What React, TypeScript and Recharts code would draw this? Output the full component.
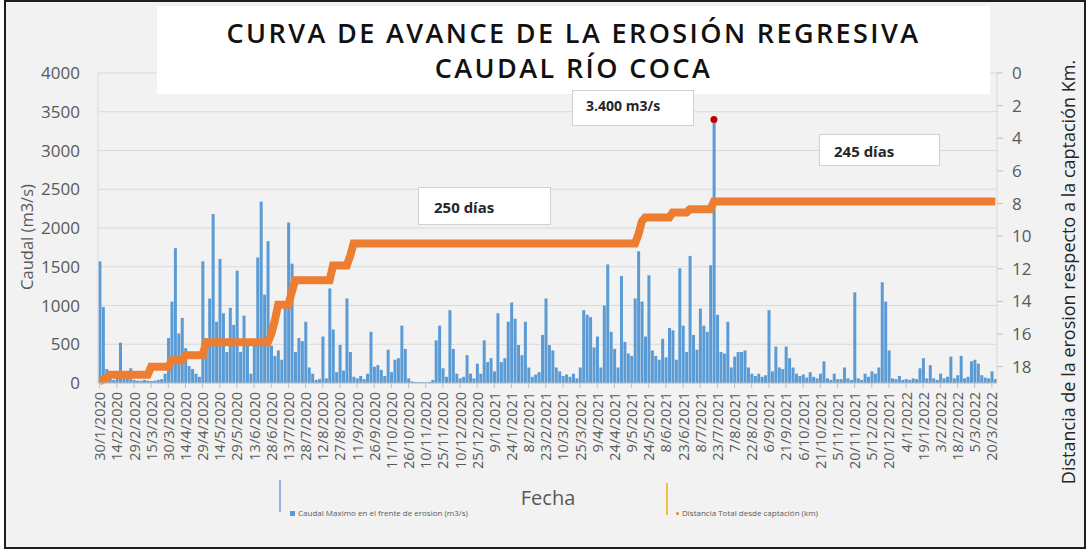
import React from 'react';
import {
  ComposedChart,
  Bar,
  Line,
  XAxis,
  YAxis,
  CartesianGrid,
  ReferenceDot
} from 'recharts';

// Caudal máximo en el frente de erosión (m3/s), un valor cada 3 días desde 30/1/2020
const caudal = [
  1570, 980, 180, 60, 40, 90, 520, 150, 60, 190,
  40, 30, 30, 40, 30, 25, 30, 40, 50, 120,
  580, 1050, 1740, 640, 840, 450, 220, 180, 120, 80,
  1570, 580, 1090, 2180, 790, 1600, 900, 400, 970, 750,
  1450, 400, 870, 490, 120, 520, 1620, 2340, 1140, 1830,
  480, 350, 420, 300, 1000, 2070, 1540, 400, 580, 540,
  790, 200, 120, 40, 50, 600, 60, 1220, 690, 140,
  490, 160, 1090, 400, 80, 60, 90, 50, 120, 660,
  210, 230, 170, 90, 430, 140, 300, 320, 740, 440,
  60, 20, 10, 10, 10, 10, 15, 40, 550, 740,
  190, 80, 940, 440, 120, 60, 80, 360, 120, 60,
  250, 120, 550, 270, 320, 150, 900, 270, 320, 790,
  1040, 830, 490, 360, 790, 200, 80, 110, 140, 620,
  1090, 490, 420, 200, 150, 90, 110, 80, 120, 60,
  200, 940, 880, 850, 460, 600, 200, 1000, 1530, 660,
  440, 200, 1380, 530, 380, 350, 1090, 1700, 1050, 600,
  1390, 420, 350, 300, 570, 330, 710, 680, 300, 1480,
  740, 400, 1640, 620, 430, 960, 740, 660, 1520, 3400,
  880, 400, 380, 790, 200, 340, 400, 400, 420, 200,
  120, 90, 120, 80, 100, 940, 150, 470, 200, 180,
  470, 320, 200, 120, 90, 110, 70, 140, 80, 60,
  120, 280, 60, 40, 120, 50, 50, 200, 60, 40,
  1170, 60, 40, 120, 80, 150, 120, 200, 1300, 1050,
  420, 60, 50, 90, 40, 50, 40, 60, 50, 190,
  320, 60, 230, 60, 40, 120, 60, 80, 340, 60,
  100, 350, 60, 80, 280, 300, 250, 100, 70, 60,
  150, 50
];

// Distancia total desde captación (km), mismos intervalos
const distancia = [
  18.9, 18.8, 18.7, 18.5, 18.5, 18.5, 18.5, 18.5, 18.5, 18.5,
  18.5, 18.5, 18.5, 18.5, 18.5, 18.0, 18.0, 18.0, 18.0, 18.0,
  18.0, 17.6, 17.6, 17.6, 17.6, 17.3, 17.3, 17.3, 17.3, 17.3,
  17.3, 16.5, 16.5, 16.5, 16.5, 16.5, 16.5, 16.5, 16.5, 16.5,
  16.5, 16.5, 16.5, 16.5, 16.5, 16.5, 16.5, 16.5, 16.5, 16.5,
  16.0, 15.2, 14.2, 14.2, 14.2, 14.2, 13.4, 12.7, 12.7, 12.7,
  12.7, 12.7, 12.7, 12.7, 12.7, 12.7, 12.7, 12.7, 11.8, 11.8,
  11.8, 11.8, 11.8, 11.2, 10.45, 10.45, 10.45, 10.45, 10.45, 10.45,
  10.45, 10.45, 10.45, 10.45, 10.45, 10.45, 10.45, 10.45, 10.45, 10.45,
  10.45, 10.45, 10.45, 10.45, 10.45, 10.45, 10.45, 10.45, 10.45, 10.45,
  10.45, 10.45, 10.45, 10.45, 10.45, 10.45, 10.45, 10.45, 10.45, 10.45,
  10.45, 10.45, 10.45, 10.45, 10.45, 10.45, 10.45, 10.45, 10.45, 10.45,
  10.45, 10.45, 10.45, 10.45, 10.45, 10.45, 10.45, 10.45, 10.45, 10.45,
  10.45, 10.45, 10.45, 10.45, 10.45, 10.45, 10.45, 10.45, 10.45, 10.45,
  10.45, 10.45, 10.45, 10.45, 10.45, 10.45, 10.45, 10.45, 10.45, 10.45,
  10.45, 10.45, 10.45, 10.45, 10.45, 10.45, 10.45, 9.9, 9.1, 8.85,
  8.85, 8.85, 8.85, 8.85, 8.85, 8.85, 8.85, 8.55, 8.55, 8.55,
  8.55, 8.55, 8.35, 8.35, 8.35, 8.35, 8.35, 8.35, 8.35, 7.88,
  7.88, 7.88, 7.88, 7.88, 7.88, 7.88, 7.88, 7.88, 7.88, 7.88,
  7.88, 7.88, 7.88, 7.88, 7.88, 7.88, 7.88, 7.88, 7.88, 7.88,
  7.88, 7.88, 7.88, 7.88, 7.88, 7.88, 7.88, 7.88, 7.88, 7.88,
  7.88, 7.88, 7.88, 7.88, 7.88, 7.88, 7.88, 7.88, 7.88, 7.88,
  7.88, 7.88, 7.88, 7.88, 7.88, 7.88, 7.88, 7.88, 7.88, 7.88,
  7.88, 7.88, 7.88, 7.88, 7.88, 7.88, 7.88, 7.88, 7.88, 7.88,
  7.88, 7.88, 7.88, 7.88, 7.88, 7.88, 7.88, 7.88, 7.88, 7.88,
  7.88, 7.88, 7.88, 7.88, 7.88, 7.88, 7.88, 7.88, 7.88, 7.88,
  7.88, 7.88
];

// una etiqueta cada 15 días (cada 5 intervalos)
const fechas = [
  '30/1/2020', '14/2/2020', '29/2/2020', '15/3/2020', '30/3/2020', '14/4/2020',
  '29/4/2020', '14/5/2020', '29/5/2020', '13/6/2020', '28/6/2020', '13/7/2020',
  '28/7/2020', '12/8/2020', '27/8/2020', '11/9/2020', '26/9/2020', '11/10/2020',
  '26/10/2020', '10/11/2020', '25/11/2020', '10/12/2020', '25/12/2020', '9/1/2021',
  '24/1/2021', '8/2/2021', '23/2/2021', '10/3/2021', '25/3/2021', '9/4/2021',
  '24/4/2021', '9/5/2021', '24/5/2021', '8/6/2021', '23/6/2021', '8/7/2021',
  '23/7/2021', '7/8/2021', '22/8/2021', '6/9/2021', '21/9/2021', '6/10/2021',
  '21/10/2021', '5/11/2021', '20/11/2021', '5/12/2021', '20/12/2021', '4/1/2022',
  '19/1/2022', '3/2/2022', '18/2/2022', '5/3/2022', '20/3/2022'
];

const caudalTicks = [0, 500, 1000, 1500, 2000, 2500, 3000, 3500, 4000];
const kmTicks = [0, 2, 4, 6, 8, 10, 12, 14, 16, 18];

const PEAK_IDX = 179;
const PEAK_VALUE = 3400;

const FONT = '"Open Sans", "DejaVu Sans", sans-serif';

const data = caudal.map((c, i) => ({ idx: i, caudal: c, dist: distancia[i] }));

const FechaTick = (props: any) => {
  const { x, y, payload } = props;
  const label = payload.value % 5 === 0 ? fechas[payload.value / 5] : '';
  if (!label) return null;
  return (
    <g transform={`translate(${x},${y})`}>
      <text
        x={0}
        y={0}
        transform="rotate(-90)"
        textAnchor="end"
        dominantBaseline="central"
        fontSize={14.5}
        fontFamily={FONT}
        fill="#595959"
      >
        {label}
      </text>
    </g>
  );
};

const boxStyle: React.CSSProperties = {
  position: 'absolute',
  background: '#fff',
  border: '1px solid #d0d0d0',
  fontFamily: FONT,
  fontWeight: 700,
  color: '#262626',
  boxSizing: 'border-box'
};

export default function App() {
  return (
    <div style={{ position: 'absolute', left: 0, top: 0, width: 1090, height: 555, background: '#fff' }}>
      <div
        style={{
          position: 'absolute',
          left: 4,
          top: 0,
          width: 1082,
          height: 549,
          border: '2px solid #1e1e1e',
          background: '#f2f2f2',
          boxSizing: 'border-box'
        }}
      />
      <div style={{ position: 'absolute', left: 0, top: 0 }}>
        <ComposedChart
          width={1090}
          height={555}
          data={data}
          margin={{ top: 73, right: 33, bottom: 82, left: 0 }}
          barCategoryGap="12%"
        >
          <CartesianGrid vertical={false} stroke="#d9d9d9" yAxisId="left" />
          <XAxis
            dataKey="idx"
            interval={4}
            height={90}
            tick={<FechaTick />}
            tickSize={5}
            tickMargin={4}
            stroke="#bfbfbf"
          />
          <YAxis
            yAxisId="left"
            domain={[0, 4000]}
            ticks={caudalTicks}
            width={98}
            tickSize={0}
            tickMargin={18}
            axisLine={{ stroke: '#d9d9d9' }}
            tick={{ fill: '#595959', fontSize: 17, fontFamily: FONT }}
          />
          <YAxis
            yAxisId="right"
            orientation="right"
            reversed
            domain={[0, 19]}
            ticks={kmTicks}
            width={60}
            tickSize={6}
            tickMargin={9}
            axisLine={{ stroke: '#d9d9d9' }}
            tickLine={{ stroke: '#bfbfbf' }}
            tick={{ fill: '#595959', fontSize: 17, fontFamily: FONT, textAnchor: 'start' }}
          />
          <Bar yAxisId="left" dataKey="caudal" fill="#5B9BD5" isAnimationActive={false} />
          <Line
            yAxisId="right"
            dataKey="dist"
            type="linear"
            stroke="#ED7D31"
            strokeWidth={8}
            dot={false}
            isAnimationActive={false}
          />
          <ReferenceDot
            yAxisId="left"
            x={PEAK_IDX}
            y={PEAK_VALUE}
            r={3.5}
            fill="#C00000"
            stroke="none"
          />
        </ComposedChart>
      </div>

      {/* title */}
      <div
        style={{
          position: 'absolute',
          left: 157,
          top: 6,
          width: 833,
          height: 88,
          background: '#fff',
          fontFamily: FONT,
          fontWeight: 600,
          fontSize: 27,
          color: '#111',
          textAlign: 'center',
          lineHeight: '35px',
          paddingTop: 9,
          boxSizing: 'border-box',
          letterSpacing: 2.4
        }}
      >
        <div>CURVA DE AVANCE DE LA EROSIÓN REGRESIVA</div>
        <div>CAUDAL RÍO COCA</div>
      </div>

      {/* annotations */}
      <div style={{ ...boxStyle, left: 572, top: 90, width: 122, height: 36, fontSize: 14, paddingLeft: 13, paddingTop: 5 }}>
        3.400 m3/s
      </div>
      <div style={{ ...boxStyle, left: 819, top: 134, width: 121, height: 32, fontSize: 15, paddingLeft: 14, paddingTop: 6 }}>
        245 días
      </div>
      <div style={{ ...boxStyle, left: 418, top: 187, width: 133, height: 38, fontSize: 15, paddingLeft: 15, paddingTop: 9 }}>
        250 días
      </div>

      {/* axis titles */}
      <div
        style={{
          position: 'absolute',
          left: 26,
          top: 237,
          transform: 'translate(-50%, -50%) rotate(-90deg)',
          whiteSpace: 'nowrap',
          fontFamily: FONT,
          fontSize: 16.5,
          color: '#595959'
        }}
      >
        Caudal (m3/s)
      </div>
      <div
        style={{
          position: 'absolute',
          left: 1068,
          top: 272,
          transform: 'translate(-50%, -50%) rotate(-90deg)',
          whiteSpace: 'nowrap',
          fontFamily: FONT,
          fontSize: 18,
          color: '#262626'
        }}
      >
        Distancia de la erosion respecto a la captación Km.
      </div>
      <div
        style={{
          position: 'absolute',
          left: 548,
          top: 497,
          transform: 'translate(-50%, -50%)',
          fontFamily: FONT,
          fontSize: 20,
          color: '#595959'
        }}
      >
        Fecha
      </div>

      {/* legend */}
      <div style={{ position: 'absolute', left: 279, top: 480, width: 2, height: 32, background: '#8fb4e0' }} />
      <div
        style={{
          position: 'absolute',
          left: 290,
          top: 507,
          fontFamily: FONT,
          fontSize: 8,
          color: '#595959',
          whiteSpace: 'nowrap'
        }}
      >
        <span style={{ display: 'inline-block', width: 5, height: 5, background: '#5B9BD5', marginRight: 3 }} />
        Caudal Maximo en el frente de erosion (m3/s)
      </div>
      <div style={{ position: 'absolute', left: 666, top: 483, width: 2, height: 32, background: '#f0c040' }} />
      <div
        style={{
          position: 'absolute',
          left: 676,
          top: 507,
          fontFamily: FONT,
          fontSize: 8,
          color: '#595959',
          whiteSpace: 'nowrap'
        }}
      >
        <span style={{ display: 'inline-block', width: 3, height: 3, borderRadius: 2, background: '#ED7D31', marginRight: 3, verticalAlign: 'middle' }} />
        Distancia Total desde captación (km)
      </div>
    </div>
  );
}
